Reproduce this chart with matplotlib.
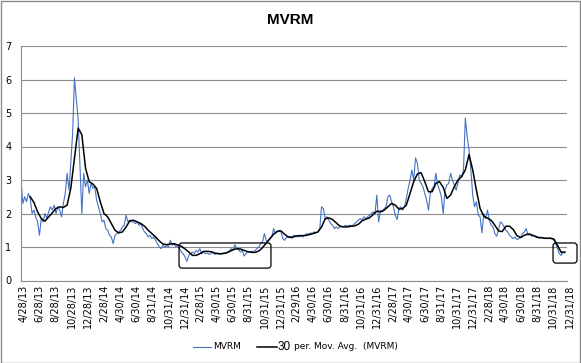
import numpy as np
import pandas as pd
import matplotlib
matplotlib.use('Agg')
import matplotlib.pyplot as plt
from matplotlib.patches import FancyBboxPatch, Rectangle
from matplotlib.lines import Line2D
from matplotlib.transforms import IdentityTransform, ScaledTranslation

# weekly MVRM readings, starting 4/28/13
mvrm = [3.0, 2.3, 2.5, 2.35, 2.6, 2.45, 2.0, 2.1, 1.9, 1.75,
        1.35, 1.85, 1.75, 2.0, 1.85, 2.05, 2.2, 2.1, 2.25, 2.0,
        2.2, 2.1, 1.9, 2.3, 2.6, 3.2, 2.7, 3.5, 4.4, 6.05,
        5.4, 4.8, 3.4, 2.0, 3.2, 2.8, 3.0, 2.6, 2.9, 2.75,
        2.8, 2.4, 2.2, 2.0, 1.75, 1.8, 1.55, 1.5, 1.35, 1.3,
        1.1, 1.35, 1.4, 1.45, 1.5, 1.6, 1.65, 1.95, 1.75, 1.8,
        1.75, 1.75, 1.7, 1.75, 1.65, 1.7, 1.55, 1.45, 1.4, 1.3,
        1.35, 1.25, 1.3, 1.2, 1.1, 1.0, 0.95, 1.05, 1.0, 1.05,
        1.0, 1.2, 1.05, 1.1, 1.0, 1.05, 0.95, 0.85, 0.8, 0.7,
        0.57, 0.75, 0.8, 0.85, 0.8, 0.9, 0.85, 0.95, 0.8, 0.85,
        0.8, 0.82, 0.78, 0.8, 0.85, 0.78, 0.8, 0.82, 0.78, 0.8,
        0.82, 0.8, 0.85, 0.88, 0.95, 0.9, 1.07, 0.95, 0.92, 0.85,
        0.9, 0.73, 0.8, 0.85, 0.85, 0.88, 0.85, 0.9, 0.95, 1.0,
        1.1, 1.15, 1.4, 1.2, 1.15, 1.25, 1.3, 1.55, 1.4, 1.45,
        1.5, 1.45, 1.25, 1.2, 1.3, 1.28, 1.32, 1.3, 1.35, 1.3,
        1.32, 1.3, 1.33, 1.3, 1.35, 1.4, 1.38, 1.42, 1.4, 1.45,
        1.42, 1.45, 1.5, 2.2, 2.15, 1.85, 1.9, 1.8, 1.7, 1.65,
        1.55, 1.6, 1.55, 1.6, 1.62, 1.6, 1.65, 1.62, 1.65, 1.63,
        1.65, 1.7, 1.75, 1.8, 1.85, 1.8, 1.9, 1.85, 1.9, 1.95,
        2.0, 2.05, 2.0, 2.55, 1.75, 2.1, 2.05, 2.15, 2.2, 2.5,
        2.55, 2.35, 2.2, 1.95, 1.82, 2.15, 2.2, 2.1, 2.2, 2.45,
        2.75, 3.0, 3.3, 3.0, 3.66, 3.5, 3.0, 2.9, 2.8, 2.6,
        2.4, 2.1, 2.6, 2.75, 2.8, 3.2, 2.85, 2.7, 2.5, 2.0,
        2.7, 2.85, 2.9, 3.2, 3.0, 2.85, 2.7, 2.9, 3.15, 3.1,
        3.3, 4.85, 4.3, 3.9, 3.3, 2.55, 2.2, 2.35, 1.95, 1.9,
        1.42, 2.0, 1.85, 2.1, 1.8, 1.65, 1.6, 1.4, 1.32, 1.5,
        1.75, 1.7, 1.6, 1.5, 1.45, 1.35, 1.3, 1.25, 1.3, 1.22,
        1.25, 1.3, 1.4, 1.45, 1.55, 1.35, 1.4, 1.32, 1.35, 1.3,
        1.28, 1.27, 1.3, 1.27, 1.25, 1.27, 1.25, 1.27, 1.25, 1.2,
        1.1, 0.95, 0.8, 0.75, 0.85, 0.82]

# 30 period moving average, read every two weeks from 6/2/13
ma30 = [2.5, 2.33, 2.05, 1.85, 1.77, 1.9, 2.02, 2.15, 2.2, 2.18,
        2.25, 2.75, 3.65, 4.55, 4.35, 3.35, 2.95, 2.88, 2.75, 2.35,
        2.0, 1.9, 1.7, 1.5, 1.42, 1.45, 1.6, 1.78, 1.8, 1.75,
        1.7, 1.62, 1.5, 1.4, 1.3, 1.18, 1.09, 1.07, 1.09, 1.1,
        1.06, 1.02, 0.94, 0.85, 0.75, 0.75, 0.8, 0.87, 0.87, 0.86,
        0.82, 0.8, 0.8, 0.82, 0.86, 0.92, 0.95, 0.94, 0.9, 0.86,
        0.84, 0.84, 0.88, 0.98, 1.12, 1.25, 1.38, 1.47, 1.48, 1.38,
        1.3, 1.28, 1.33, 1.34, 1.34, 1.35, 1.38, 1.41, 1.45, 1.6,
        1.84, 1.87, 1.82, 1.72, 1.62, 1.6, 1.6, 1.62, 1.63, 1.68,
        1.78, 1.83, 1.87, 1.97, 2.07, 2.05, 2.1, 2.2, 2.3, 2.25,
        2.13, 2.15, 2.25, 2.6, 2.95, 3.18, 3.22, 2.95, 2.65, 2.65,
        2.9, 2.95, 2.78, 2.45, 2.55, 2.8, 3.0, 3.1, 3.3, 3.76,
        3.3, 2.7, 2.15, 1.92, 1.86, 1.8, 1.65, 1.48, 1.46, 1.62,
        1.62, 1.52, 1.34, 1.28, 1.35, 1.39, 1.36, 1.32, 1.28, 1.27,
        1.26, 1.26, 1.24, 1.05, 0.84, 0.85]

tick_labels = ['4/28/13', '6/28/13', '8/28/13', '10/28/13', '12/28/13',
               '2/28/14', '4/30/14', '6/30/14', '8/31/14', '10/31/14', '12/31/14',
               '2/28/15', '4/30/15', '6/30/15', '8/31/15', '10/31/15', '12/31/15',
               '2/29/16', '4/30/16', '6/30/16', '8/31/16', '10/31/16', '12/31/16',
               '2/28/17', '4/30/17', '6/30/17', '8/31/17', '10/31/17', '12/31/17',
               '2/28/18', '4/30/18', '6/30/18', '8/31/18', '10/31/18', '12/31/18']

# highlighted periods: (start, end, low, high)
boxes = [('2014-12-19', '2015-12-03', 0.37, 1.12),
         ('2018-11-08', '2019-02-07', 0.52, 1.12)]

mvrm_dates = pd.date_range('2013-04-28', periods=len(mvrm), freq='7D')
ma_dates = pd.date_range('2013-06-02', periods=len(ma30), freq='14D')
tick_dates = pd.to_datetime(tick_labels, format='%m/%d/%y')

W, H = 581, 363
fig = plt.figure(figsize=(W / 100, H / 100), dpi=100)
ax = fig.add_axes([21 / W, 82.5 / H, 546 / W, 234.5 / H])

grid_c = '#8c8c8c'
ax.plot(mvrm_dates, mvrm, color='#4472c4', lw=0.8)
ax.plot(ma_dates, ma30, color='black', lw=1.1)

ax.set_xlim(pd.Timestamp('2013-04-28'), pd.Timestamp('2018-12-31'))
ax.set_ylim(0, 7)
ax.set_yticks(range(0, 8))
ax.set_xticks(tick_dates)
ax.set_xticklabels(tick_labels, rotation=90)
ax.tick_params(length=0, labelsize=7)
ax.tick_params(axis='x', pad=3)
ax.tick_params(axis='y', pad=7)
ax.grid(axis='y', color=grid_c, lw=0.8)
ax.set_axisbelow(True)
for s in ['top', 'right']:
    ax.spines[s].set_visible(False)
for s in ['left', 'bottom']:
    ax.spines[s].set_color(grid_c)
    ax.spines[s].set_linewidth(0.8)

shift = ScaledTranslation(2.5 / 100, 0, fig.dpi_scale_trans)
for lab in ax.get_xticklabels():
    lab.set_transform(lab.get_transform() + shift)

# rounded highlight boxes, drawn in pixel space
for start, end, lo, hi in boxes:
    x0, y0 = ax.transData.transform((matplotlib.dates.date2num(pd.Timestamp(start)), lo))
    x1, y1 = ax.transData.transform((matplotlib.dates.date2num(pd.Timestamp(end)), hi))
    box = FancyBboxPatch((x0, y0), x1 - x0, y1 - y0,
                         boxstyle='round,pad=0,rounding_size=3',
                         transform=IdentityTransform(), fill=False,
                         edgecolor='black', lw=0.9, clip_on=False)
    fig.patches.append(box)

fig.text(290 / W, 1 - 20 / H, 'MVRM', ha='center', va='center',
         fontsize=11, fontweight='bold', family='Liberation Sans')

# legend
ly = 1 - 346.5 / H
fig.add_artist(Line2D([193 / W, 211 / W], [ly, ly], color='#4472c4', lw=0.8))
fig.text(213.5 / W, ly, 'MVRM', va='center', fontsize=6.5)
fig.add_artist(Line2D([257 / W, 277 / W], [ly, ly], color='black', lw=1.1))
fig.text(278 / W, ly, '30', va='center', fontsize=8.5, family='Liberation Sans')
fig.text(294 / W, ly, 'per. Mov. Avg.  (MVRM)', va='center', fontsize=6.5)

fig.patches.append(Rectangle((0.5 / W, 0.5 / H), 1 - 1.5 / W, 1 - 1.5 / H,
                             transform=fig.transFigure, fill=False,
                             edgecolor='#8a8a8a', lw=1))

fig.savefig('out.png', dpi=100)
